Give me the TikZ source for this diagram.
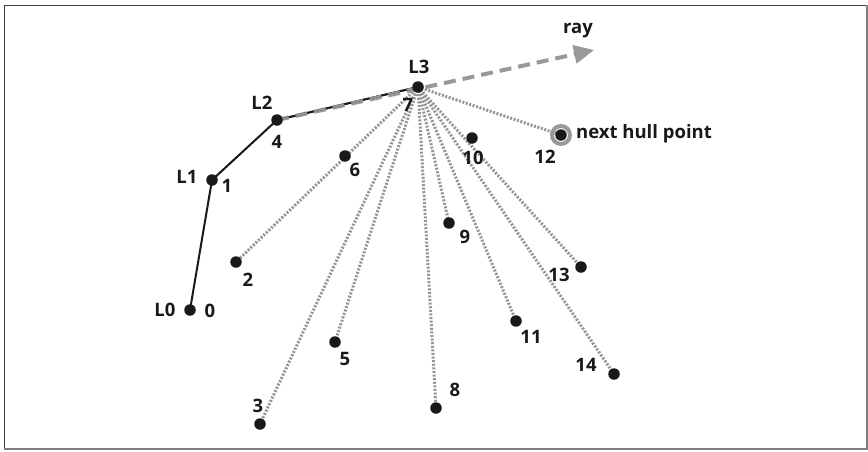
\documentclass[tikz,border=0pt]{standalone}
\usepackage{fontspec}
\setmainfont{Open Sans}
\usetikzlibrary{arrows.meta}
\definecolor{dotgray}{HTML}{959595}
\definecolor{raygray}{HTML}{999999}
\begin{document}
\begin{tikzpicture}[x=1pt,y=-1pt,
  pt/.style={circle,fill=black!90,inner sep=0pt,minimum size=11.5pt},
  lab/.style={font=\fontsize{18.5}{18.5}\selectfont\bfseries,text=black!90,inner sep=0pt},
  scan/.style={draw=dotgray,line width=3pt,dash pattern=on 2pt off 1.6pt},
  hull/.style={draw=black!90,line width=2pt},
  raystyle/.style={draw=raygray,line width=4pt,dash pattern=on 12pt off 7pt}]
\useasboundingbox (0,0) rectangle (868,451);
\fill[white] (0,0) rectangle (868,451);
% frame
\draw[black!75,line width=1pt] (4,449) -- (4,5.5) -- (866,5.5);
\draw[black!50,line width=2pt] (4,448.5) -- (866.5,448.5) -- (866.5,5);
% points
\coordinate (p0) at (190,310);
\coordinate (p1) at (212,180);
\coordinate (p2) at (236,262);
\coordinate (p3) at (260,424);
\coordinate (p4) at (277,120);
\coordinate (p5) at (335,342);
\coordinate (p6) at (345,156);
\coordinate (p7) at (418,87);
\coordinate (p8) at (436,408);
\coordinate (p9) at (449,223);
\coordinate (p10) at (472,138);
\coordinate (p11) at (516,321);
\coordinate (p12) at (561,135);
\coordinate (p13) at (581,267);
\coordinate (p14) at (614,374);
\coordinate (rayend) at (594,50);
% scan lines
\foreach \t in {p2,p3,p5,p8,p9,p11,p13,p14,p12}
  \draw[scan] (p7) -- (\t);
% hull
\draw[hull] (p0) -- (p1) -- (p4) -- (p7);
% ray
\draw[raystyle,-{Triangle[length=20pt,width=18pt]}] (p4) -- (rayend);
\draw[hull,line width=1.6pt] (p4) -- (p7);
\draw[raygray,line width=1.6pt,dash pattern=on 12pt off 7pt] (p4) -- (p7);
% halo
\draw[raygray,line width=4pt] (p12) circle (9pt);
% dots
\foreach \i in {0,...,14}
  \node[pt] (n\i) at (p\i) {};
% labels
\node[lab] (lL3) at (419,67) {L3};
\node[lab] (l7) at (408,105) {7};
\node[lab] (lL2) at (262,103) {L2};
\node[lab] (l4) at (277,142) {4};
\node[lab] (lL1) at (187,177) {L1};
\node[lab] (l1) at (227,186) {1};
\node[lab] (l6) at (355,170) {6};
\node[lab] (lray) at (578,31) {ray};
\node[lab] (l12) at (545,157) {12};
\node[lab] (l10) at (473,158) {10};
\node[lab,anchor=west] (lnext) at (576,134) {next hull point};
\node[lab] (l2) at (248,280) {2};
\node[lab] (lL0) at (165,310) {L0};
\node[lab] (l0) at (210,311) {0};
\node[lab] (l3) at (258,406) {3};
\node[lab] (l5) at (345,359) {5};
\node[lab] (l9) at (465,237) {9};
\node[lab] (l13) at (559,275) {13};
\node[lab] (l11) at (531,337) {11};
\node[lab] (l14) at (586,365) {14};
\node[lab] (l8) at (455,390) {8};
\end{tikzpicture}
\end{document}
